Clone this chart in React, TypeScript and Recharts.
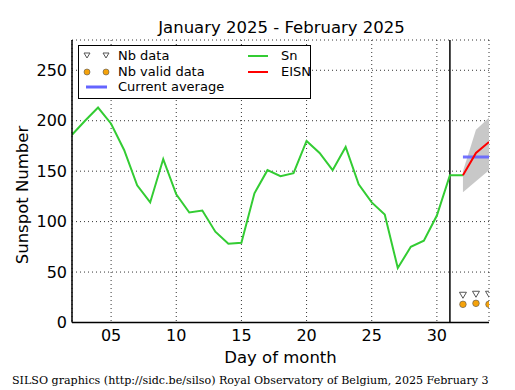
import React from "react";
import {
  ComposedChart,
  Line,
  Area,
  Scatter,
  XAxis,
  YAxis,
  CartesianGrid,
  ReferenceLine,
} from "recharts";

// daily sunspot number, January 2025 (day 32 = Feb 1)
const snDays = [2, 3, 4, 5, 6, 7, 8, 9, 10, 11, 12, 13, 14, 15, 16, 17, 18, 19, 20, 21, 22, 23, 24, 25, 26, 27, 28, 29, 30, 31, 32];
const snValues = [186, 200, 213, 197, 171, 136, 119, 162, 127, 109, 111, 90, 78, 79, 128, 151, 145, 148, 180, 168, 151, 174, 137, 119, 107, 54, 75, 81, 106, 146, 146];

// estimated ISN, February
const eisnDays = [32, 33, 34];
const eisnValues = [146, 168, 179];
const eisnLow = [129, 140, 151];
const eisnHigh = [150, 191, 203];

const avgDays = [32, 34];
const avgValues = [164, 164];

const nbData = [27, 28, 28];
const nbValid = [18, 19, 18];

const xMajor = [5, 10, 15, 20, 25, 30];
const xMinor = [2, 3, 4, 5, 6, 7, 8, 9, 10, 11, 12, 13, 14, 15, 16, 17, 18, 19, 20, 21, 22, 23, 24, 25, 26, 27, 28, 29, 30, 31, 32, 33, 34];
const yMajor = [0, 50, 100, 150, 200, 250];
const yMinor = [0, 10, 20, 30, 40, 50, 60, 70, 80, 90, 100, 110, 120, 130, 140, 150, 160, 170, 180, 190, 200, 210, 220, 230, 240, 250, 260, 270, 280];

const snData = snDays.map((day, i) => ({ day, sn: snValues[i] }));
const eisnData = eisnDays.map((day, i) => ({
  day,
  eisn: eisnValues[i],
  band: [eisnLow[i], eisnHigh[i]],
  nb: nbData[i],
  valid: nbValid[i],
}));
const avgData = avgDays.map((day, i) => ({ day, avg: avgValues[i] }));

const FONT = "'DejaVu Sans', sans-serif";
const tickStyle = { fontSize: 16, fill: "#000", fontFamily: FONT };
const frame = { stroke: "#000", strokeWidth: 1.5 };
const tickLn = { stroke: "#000", strokeWidth: 1 };

const Triangle = (props: any) => {
  const { cx, cy } = props;
  return (
    <path
      d={`M${cx - 3.5},${cy - 3} L${cx + 3.5},${cy - 3} L${cx},${cy + 3} Z`}
      fill="none"
      stroke="#555"
      strokeWidth={1}
    />
  );
};

const Dot = (props: any) => {
  const { cx, cy } = props;
  return <circle cx={cx} cy={cy} r={3.3} fill="#f5a20a" stroke="#555" strokeWidth={0.6} />;
};

const Legend = () => (
  <div
    style={{
      position: "absolute",
      left: 78,
      top: 45,
      width: 231,
      height: 52,
      border: "1px solid #000",
      background: "#fff",
      fontFamily: FONT,
      fontSize: 13,
      color: "#000",
    }}
  >
    <svg width={231} height={52} style={{ position: "absolute", left: 0, top: 0 }}>
      <path d="M5,7 L11,7 L8,12 Z" fill="none" stroke="#555" />
      <path d="M24,7 L30,7 L27,12 Z" fill="none" stroke="#555" />
      <circle cx={8} cy={26} r={3} fill="#f5a20a" stroke="#555" strokeWidth={0.6} />
      <circle cx={27} cy={26} r={3} fill="#f5a20a" stroke="#555" strokeWidth={0.6} />
      <line x1={7} x2={28} y1={41} y2={41} stroke="#6464ff" strokeWidth={3} />
      <line x1={169} x2={189} y1={10} y2={10} stroke="#33cc33" strokeWidth={2} />
      <line x1={169} x2={189} y1={26} y2={26} stroke="#ff0000" strokeWidth={2} />
    </svg>
    <div style={{ position: "absolute", left: 39, top: 2 }}>Nb data</div>
    <div style={{ position: "absolute", left: 39, top: 18 }}>Nb valid data</div>
    <div style={{ position: "absolute", left: 39, top: 33 }}>Current average</div>
    <div style={{ position: "absolute", left: 202, top: 2 }}>Sn</div>
    <div style={{ position: "absolute", left: 202, top: 18 }}>EISN</div>
  </div>
);

export default function App() {
  return (
    <div style={{ position: "absolute", left: 0, top: 0, width: 515, height: 390, background: "#fff" }}>
      <div
        style={{
          position: "absolute",
          left: 24,
          width: 515,
          top: 18,
          textAlign: "center",
          fontFamily: FONT,
          fontSize: 16.5,
        }}
      >
        January 2025 - February 2025
      </div>
      <ComposedChart
        width={515}
        height={390}
        margin={{ top: 40, right: 26, bottom: 37.5, left: 32 }}
      >
        <CartesianGrid stroke="#000" strokeDasharray="1 3" strokeWidth={0.8} />
        <XAxis
          type="number"
          dataKey="day"
          domain={[2, 34]}
          ticks={xMajor}
          allowDataOverflow
          height={30}
          tickSize={0}
          tickMargin={7}
          tickLine={false}
          axisLine={frame}
          tick={tickStyle}
          tickFormatter={(v: number) => String(v).padStart(2, "0")}
        />
        <XAxis xAxisId="bmaj" type="number" domain={[2, 34]} ticks={xMajor} allowDataOverflow orientation="bottom" mirror height={0} tickSize={8} tickLine={tickLn} axisLine={false} tick={false} />
        <XAxis xAxisId="bmin" type="number" domain={[2, 34]} ticks={xMinor} allowDataOverflow orientation="bottom" mirror height={0} tickSize={4} tickLine={tickLn} axisLine={false} tick={false} />
        <XAxis xAxisId="tmaj" type="number" domain={[2, 34]} ticks={xMajor} allowDataOverflow orientation="top" mirror height={0} tickSize={8} tickLine={tickLn} axisLine={frame} tick={false} />
        <XAxis xAxisId="tmin" type="number" domain={[2, 34]} ticks={xMinor} allowDataOverflow orientation="top" mirror height={0} tickSize={4} tickLine={tickLn} axisLine={false} tick={false} />
        <YAxis
          type="number"
          domain={[0, 280]}
          ticks={yMajor}
          allowDataOverflow
          width={40}
          tickSize={0}
          tickMargin={5}
          tickLine={false}
          axisLine={frame}
          tick={tickStyle}
        />
        <YAxis yAxisId="lmaj" type="number" domain={[0, 280]} ticks={yMajor} allowDataOverflow orientation="left" mirror width={0} tickSize={8} tickLine={tickLn} axisLine={false} tick={false} />
        <YAxis yAxisId="lmin" type="number" domain={[0, 280]} ticks={yMinor} allowDataOverflow orientation="left" mirror width={0} tickSize={4} tickLine={tickLn} axisLine={false} tick={false} />
        <YAxis yAxisId="rmaj" type="number" domain={[0, 280]} ticks={yMajor} allowDataOverflow orientation="right" mirror width={0} tickSize={8} tickLine={tickLn} axisLine={frame} tick={false} />
        <YAxis yAxisId="rmin" type="number" domain={[0, 280]} ticks={yMinor} allowDataOverflow orientation="right" mirror width={0} tickSize={4} tickLine={tickLn} axisLine={false} tick={false} />

        <Area
          data={eisnData}
          dataKey="band"
          type="linear"
          stroke="none"
          fill="#c8c8c8"
          fillOpacity={1}
          isAnimationActive={false}
        />
        <ReferenceLine x={31} stroke="#000" strokeWidth={1.5} />
        <Line
          data={snData}
          dataKey="sn"
          type="linear"
          stroke="#33cc33"
          strokeWidth={2}
          dot={false}
          isAnimationActive={false}
        />
        <Line
          data={avgData}
          dataKey="avg"
          type="linear"
          stroke="#6464ff"
          strokeOpacity={0.9}
          strokeWidth={3}
          dot={false}
          isAnimationActive={false}
        />
        <Line
          data={eisnData}
          dataKey="eisn"
          type="linear"
          stroke="#ff0000"
          strokeWidth={2}
          dot={false}
          isAnimationActive={false}
        />
        <Scatter data={eisnData} dataKey="nb" shape={<Triangle />} isAnimationActive={false} />
        <Scatter data={eisnData} dataKey="valid" shape={<Dot />} isAnimationActive={false} />
      </ComposedChart>
      <Legend />
      <div
        style={{
          position: "absolute",
          left: 4,
          top: 195,
          width: 0,
          height: 0,
        }}
      >
        <div
          style={{
            position: "absolute",
            transform: "translate(-50%, -50%) rotate(-90deg)",
            left: 18,
            top: 0,
            whiteSpace: "nowrap",
            fontFamily: FONT,
            fontSize: 16.5,
          }}
        >
          Sunspot Number
        </div>
      </div>
      <div
        style={{
          position: "absolute",
          left: 72,
          width: 417,
          top: 348,
          textAlign: "center",
          fontFamily: FONT,
          fontSize: 16.5,
        }}
      >
        Day of month
      </div>
      <div
        style={{
          position: "absolute",
          left: 12,
          top: 374,
          whiteSpace: "nowrap",
          fontFamily: "'DejaVu Serif', serif",
          fontSize: 11.1,
        }}
      >
        SILSO graphics (http://sidc.be/silso) Royal Observatory of Belgium, 2025 February 3
      </div>
    </div>
  );
}
